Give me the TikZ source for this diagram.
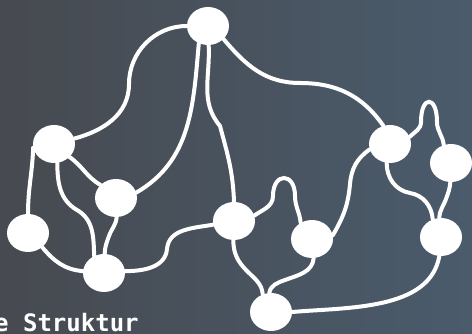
\documentclass[tikz,border=0pt]{standalone}
\usepackage{fontspec}
\newfontfamily\monofont{DejaVu Sans Mono}
\usetikzlibrary{shapes.geometric}
\definecolor{bgleft}{RGB}{71,74,80}
\definecolor{bgright}{RGB}{74,91,108}

\begin{document}
\begin{tikzpicture}[x=1pt,y=1pt,
    vertex/.style={ellipse,fill=white,minimum width=42pt,minimum height=38pt,inner sep=0pt},
    link/.style={draw=white,line width=4pt,line cap=round}]
    \shade[left color=bgleft,right color=bgright] (0,0) rectangle (472,334);
    \useasboundingbox (0,0) rectangle (472,334);
    \node[vertex] (top) at (208,308) {};
    \node[vertex] (lt) at (54,190) {};
    \node[vertex] (lm) at (116,136) {};
    \node[vertex] (ll) at (28,101) {};
    \node[vertex] (lb) at (104,61) {};
    \node[vertex] (mm) at (234,113) {};
    \node[vertex] (mr) at (312,95) {};
    \node[vertex] (mb) at (271,22) {};
    \node[vertex] (rt) at (390,190) {};
    \node[vertex] (rr) at (451,171) {};
    \node[vertex] (rb) at (441,97) {};
    \node[anchor=base west,inner sep=0pt,text=white,
      font=\monofont\bfseries\fontsize{24}{24}\selectfont] (title) at (-6,2.5) {e Struktur};
    % left part
    \draw[link] (top.180) to[out=180,in=90] (129,250) to[out=-90,in=15] (lt.15);
    \draw[link] (top.242) to[out=-95,in=30] (lm.15);
    \draw[link] (lt.190) to[out=-92,in=90] (ll.north);
    \draw[link] (lt.-40) to[out=-35,in=150] (lm.140);
    \draw[link] (lt.280) to[out=-90,in=150] (77,124) to[out=-30,in=92] (lb.120);
    \draw[link] (lm.272) to[out=-95,in=70] (109,98) to[out=-110,in=88] (lb.88);
    \draw[link] (ll.-45) to[out=-50,in=175] (lb.175);
    \draw[link] (lb.5) to[out=0,in=-95] (167,85) to[out=85,in=190] (mm.190);
    % middle part
    \draw[link] (top.272) to[out=-87,in=130] (220,208) to[out=-75,in=92] (mm.north);
    \draw[link] (mm.15) to[out=35,in=-90] (273,138) .. controls (273,162) and (295,162) .. (295,138) to[out=-90,in=95] (mr.125);
    \draw[link] (mm.268) to[out=-90,in=135] (247,63) to[out=-45,in=95] (mb.115);
    \draw[link] (mr.275) to[out=-95,in=20] (285,54) to[out=200,in=80] (mb.95);
    \draw[link] (mr.10) to[out=60,in=-95] (350,150) to[out=85,in=215] (rt.195);
    % right part
    \draw[link] (top.-40) to[out=-50,in=180] (300,251) to[out=0,in=125] (rt.110);
    \draw[link] (mb.0) to[out=5,in=-100,looseness=0.9] (rb.265);
    \draw[link] (rt.20) to[out=45,in=-90] (421,212) .. controls (421,239) and (437,239) .. (437,212) to[out=-90,in=95] (rr.112);
    \draw[link] (rt.260) to[out=-90,in=170] (410,141) to[out=-10,in=95] (rb.115);
    \draw[link] (rr.268) to[out=-95,in=70] (446,135) to[out=-110,in=88] (rb.95);
\end{tikzpicture}
\end{document}
